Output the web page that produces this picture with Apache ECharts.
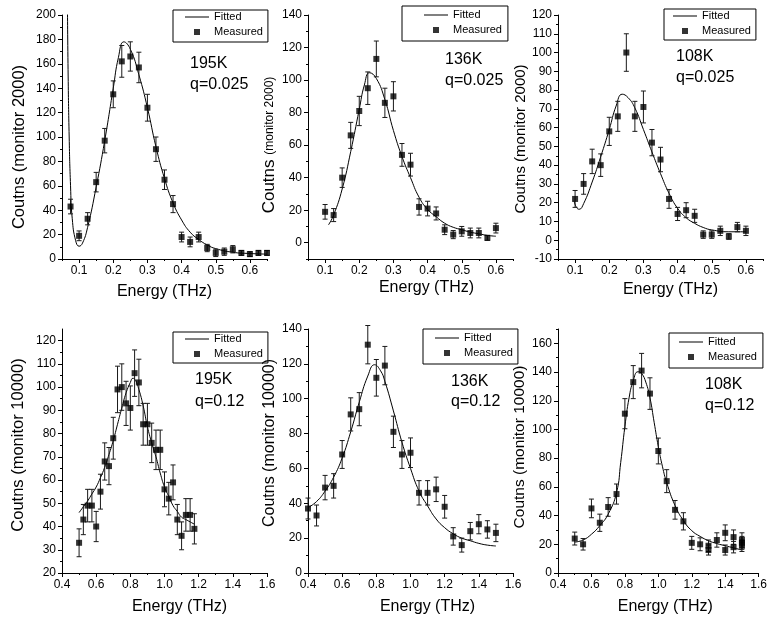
<!DOCTYPE html>
<html>
<head>
<meta charset="utf-8">
<script src="https://cdn.jsdelivr.net/npm/echarts@6.0.0/dist/echarts.min.js"></script>
<style>
  html, body { margin: 0; padding: 0; background: #fff; }
  #chart { width: 770px; height: 623px; }
</style>
</head>
<body>
<div id="chart"></div>
<script>
// ---- Measured spectra and fitted curves, q = 0.025 (monitor 2000) ----
const E_Q025 = [0.1, 0.125, 0.15, 0.175, 0.2, 0.225, 0.25, 0.275, 0.3, 0.325, 0.35,
  0.375, 0.4, 0.425, 0.45, 0.475, 0.5, 0.525, 0.55, 0.575, 0.6];

const E_195_025 = [0.075, 0.1, 0.125, 0.15, 0.175, 0.2, 0.225, 0.25, 0.275, 0.3, 0.325, 0.35,
  0.375, 0.4, 0.425, 0.45, 0.475, 0.5, 0.525, 0.55, 0.575, 0.6, 0.625, 0.65];
const C_195_025 = [43, 19, 33, 63, 97, 135, 162, 166, 157, 124, 90, 65, 45, 18, 14, 18, 9, 5, 6, 8, 5, 4, 5, 5];
const ERR_195_025 = [6, 4, 5, 8, 10, 11, 13, 12, 12.5, 11, 10, 8, 7, 4, 4, 4, 3, 3, 3, 3, 2, 2, 2, 2];
const FIT_E_195_025 = [0.066, 0.068, 0.071, 0.075, 0.08, 0.09, 0.1, 0.11, 0.125, 0.15, 0.175, 0.2,
  0.215, 0.231, 0.25, 0.275, 0.3, 0.325, 0.35, 0.375, 0.4, 0.425, 0.45, 0.475, 0.5, 0.55, 0.6, 0.65];
const FIT_C_195_025 = [205, 150, 100, 60, 33, 15, 10.5, 13, 26, 59, 97, 140,
  165, 178, 172, 151, 124, 92, 66, 46, 32, 22, 16, 11.5, 8.5, 5.5, 4.5, 4];

const C_136_025 = [19, 17, 40, 66, 81, 95, 113, 86, 90, 54, 48, 22, 21, 18, 8, 5, 7, 6, 6, 3, 9];
const ERR_136_025 = [4.5, 4, 6, 8, 9, 10, 11, 9, 9, 7, 7, 5, 4.5, 4, 3, 2.5, 3, 3, 3, 1.5, 3];
const FIT_E_136_025 = [0.11, 0.125, 0.15, 0.175, 0.2, 0.215, 0.23, 0.25, 0.275, 0.3, 0.325,
  0.35, 0.375, 0.4, 0.425, 0.45, 0.475, 0.5, 0.525, 0.55, 0.575, 0.6];
const FIT_C_136_025 = [11, 17, 33, 56, 82, 97, 104.5, 101, 88, 69, 53,
  40, 28, 20.5, 16, 12, 9.5, 8, 6.5, 5.5, 4.5, 4];

const C_108_025 = [22, 30, 42, 40, 58, 66, 100, 66, 71, 52, 43, 22, 14, 16, 13, 3, 3, 5, 2, 7, 5];
const ERR_108_025 = [4.5, 5.5, 6.5, 6, 7.5, 8, 10, 8, 8.5, 7, 6.5, 5, 3.5, 4, 3.5, 2, 2, 2.5, 1.5, 2.5, 2.5];
const FIT_E_108_025 = [0.097, 0.104, 0.112, 0.125, 0.15, 0.175, 0.2, 0.22, 0.238, 0.255,
  0.275, 0.3, 0.325, 0.35, 0.375, 0.4, 0.425, 0.45, 0.475, 0.5, 0.55, 0.6];
const FIT_C_108_025 = [21, 17.5, 16.5, 19.5, 31, 44.5, 59, 71.5, 77.8, 76,
  70.5, 59, 47, 35.5, 25, 17, 12, 9, 6.8, 5.5, 4.5, 4.5];

// ---- q = 0.12 (monitor 10000) ----
const E_195_012 = [0.5, 0.525, 0.55, 0.575, 0.6, 0.625, 0.65, 0.675, 0.7, 0.725, 0.75, 0.775, 0.8,
  0.825, 0.85, 0.875, 0.9, 0.925, 0.95, 0.975, 1.0, 1.025, 1.05, 1.075, 1.1, 1.125, 1.15, 1.175];
const C_195_012 = [33, 43, 49, 49, 40, 55, 68, 66, 78, 99, 100, 93, 91,
  106, 102, 84, 84, 76, 73, 73, 56, 52, 59, 43, 36, 45, 45, 39];
const ERR_195_012 = [6, 6.5, 7, 7, 6.5, 7.5, 8, 8, 9, 10, 10, 9.5, 9.5,
  10, 10, 9, 9, 8.5, 8.5, 8.5, 7.5, 7, 7.5, 6.5, 6, 7, 7, 6.5];
const FIT_E_195_012 = [0.5, 0.525, 0.55, 0.575, 0.6, 0.625, 0.65, 0.675, 0.7, 0.725, 0.75, 0.775,
  0.8, 0.815, 0.83, 0.85, 0.875, 0.9, 0.925, 0.95, 0.975, 1.0, 1.025, 1.05, 1.075, 1.1, 1.125, 1.15, 1.175];
const FIT_C_195_012 = [46, 48.5, 51, 54, 57, 61, 65.5, 71, 77, 84, 91, 97.5,
  102, 103.8, 103, 99, 92, 83, 76, 70, 63, 57, 53, 49, 46.5, 44, 43, 42, 41];

const E_136_012 = [0.4, 0.45, 0.5, 0.55, 0.6, 0.65, 0.7, 0.75, 0.8, 0.85, 0.9, 0.95, 1.0,
  1.05, 1.1, 1.15, 1.2, 1.25, 1.3, 1.35, 1.4, 1.45, 1.5];
const C_136_012 = [37, 33, 49, 50, 68, 91, 94, 131, 112, 119, 81, 68, 69, 46, 46, 48, 38, 21, 16, 24, 28, 25, 23];
const ERR_136_012 = [6, 6, 7, 7, 8, 9.5, 9.5, 11, 10.5, 11, 9, 8, 8.5, 7, 7, 7, 6.5, 5, 4, 5, 5.5, 5, 5];
const FIT_E_136_012 = [0.4, 0.45, 0.5, 0.55, 0.6, 0.65, 0.7, 0.75, 0.79, 0.825, 0.85, 0.9, 0.95, 1.0,
  1.05, 1.1, 1.15, 1.2, 1.25, 1.3, 1.35, 1.4, 1.45, 1.5];
const FIT_C_136_012 = [37.5, 41, 47, 55, 66, 81, 98, 113, 119.5, 116, 110, 93, 75, 60,
  47, 38.5, 31, 26, 22.5, 20, 18.5, 17, 16, 15.5];

const E_108_012 = [0.5, 0.55, 0.6, 0.65, 0.7, 0.75, 0.8, 0.85, 0.9, 0.95, 1.0, 1.05, 1.1, 1.15,
  1.2, 1.25, 1.3, 1.3, 1.35, 1.4, 1.4, 1.45, 1.45, 1.5, 1.5, 1.5];
const C_108_012 = [24, 20, 45, 35, 46, 55, 111, 133, 141, 125, 85, 64, 44, 36,
  21, 20, 19, 16, 23, 28, 16, 25, 18, 23, 21, 19];
const ERR_108_012 = [4.5, 4, 6.5, 6, 6.5, 7, 10.5, 11.5, 12, 11, 9, 8, 6.5, 6,
  4.5, 4.5, 4, 3.5, 5, 5.5, 3.5, 5, 4, 5, 4.5, 4];
const FIT_E_108_012 = [0.5, 0.55, 0.6, 0.65, 0.7, 0.75, 0.775, 0.8, 0.825, 0.85, 0.878, 0.9, 0.925,
  0.95, 0.975, 1.0, 1.025, 1.05, 1.1, 1.15, 1.2, 1.25, 1.3, 1.35, 1.4, 1.45, 1.5];
const FIT_C_108_012 = [21.5, 23, 27, 33, 41, 56, 77, 102, 122, 134, 140.2, 139, 133,
  122, 105, 88, 74, 63, 47, 36.5, 29.5, 25.5, 22.5, 20.5, 19, 17.5, 16];

// ---- Tick positions ----
const X_TICKS_Q025 = [0.1, 0.2, 0.3, 0.4, 0.5, 0.6];
const X_MINOR_Q025 = [0.05, 0.15, 0.25, 0.35, 0.45, 0.55, 0.65];
const X_TICKS_Q012 = [0.4, 0.6, 0.8, 1.0, 1.2, 1.4, 1.6];
const X_MINOR_Q012 = [0.5, 0.7, 0.9, 1.1, 1.3, 1.5];

const Y_TICKS_195_025 = [0, 20, 40, 60, 80, 100, 120, 140, 160, 180, 200];
const Y_MINOR_195_025 = [10, 30, 50, 70, 90, 110, 130, 150, 170, 190];
const Y_TICKS_136_025 = [0, 20, 40, 60, 80, 100, 120, 140];
const Y_MINOR_136_025 = [-10, 10, 30, 50, 70, 90, 110, 130];
const Y_TICKS_108_025 = [-10, 0, 10, 20, 30, 40, 50, 60, 70, 80, 90, 100, 110, 120];
const Y_MINOR_108_025 = [-5, 5, 15, 25, 35, 45, 55, 65, 75, 85, 95, 105, 115];
const Y_TICKS_195_012 = [20, 30, 40, 50, 60, 70, 80, 90, 100, 110, 120];
const Y_MINOR_195_012 = [25, 35, 45, 55, 65, 75, 85, 95, 105, 115];
const Y_TICKS_136_012 = [0, 20, 40, 60, 80, 100, 120, 140];
const Y_MINOR_136_012 = [10, 30, 50, 70, 90, 110, 130];
const Y_TICKS_108_012 = [0, 20, 40, 60, 80, 100, 120, 140, 160];
const Y_MINOR_108_012 = [10, 30, 50, 70, 90, 110, 130, 150, 170];

// ---- Labels ----
const TEMPS = ['195K', '136K', '108K', '195K', '136K', '108K'];
const Q_LABELS = ['q=0.025', 'q=0.025', 'q=0.025', 'q=0.12', 'q=0.12', 'q=0.12'];
const X_TITLE = 'Energy (THz)';
const Y_TITLE_2000 = 'Coutns (monitor 2000)';
const Y_TITLE_10000 = 'Coutns (monitor 10000)';
const LEGEND_NAMES = ['Fitted', 'Measured'];

const FONT = '"Liberation Sans", Arial, Helvetica, sans-serif';

const panels = [
  { left: 62, top: 15, xMin: 0.05, xMax: 0.65, yMin: 0, yMax: 200,
    xt: X_TICKS_Q025, xm: X_MINOR_Q025, yt: Y_TICKS_195_025, ym: Y_MINOR_195_025,
    e: E_195_025, c: C_195_025, err: ERR_195_025, fe: FIT_E_195_025, fc: FIT_C_195_025,
    yName: Y_TITLE_2000, yFont: 16.5, yGap: 34, yPad: [0, 20, 0, 0], xGap: 25, xPad: [0, 0, 0, 0],
    legend: [173, 10], legendPad: [1, 5, 4, 12], note: [190, 64, 85] },
  { left: 308, top: 15, xMin: 0.05, xMax: 0.65, yMin: -10, yMax: 140,
    xt: X_TICKS_Q025, xm: X_MINOR_Q025, yt: Y_TICKS_136_025, ym: Y_MINOR_136_025,
    e: E_Q025, c: C_136_025, err: ERR_136_025, fe: FIT_E_136_025, fc: FIT_C_136_025,
    yName: '{a|Coutns} {b|(monitor 2000)}', yRich: true, yFont: 17, yGap: 24, yPad: [0, 16, 0, 0], xGap: 21, xPad: [0, 0, 0, 32],
    legend: [402, 6], legendPad: [3, 6, 5, 22], note: [445, 60, 81] },
  { left: 558, top: 15, xMin: 0.05, xMax: 0.65, yMin: -10, yMax: 120,
    xt: X_TICKS_Q025, xm: X_MINOR_Q025, yt: Y_TICKS_108_025, ym: Y_MINOR_108_025,
    e: E_Q025, c: C_108_025, err: ERR_108_025, fe: FIT_E_108_025, fc: FIT_C_108_025,
    yName: Y_TITLE_2000, yFont: 15, yGap: 24, yPad: [0, 4, 0, 0], xGap: 23, xPad: [0, 0, 0, 20],
    legend: [664, 9], legendPad: [1, 5, 3, 9], note: [676, 57, 78] },
  { left: 62, top: 329, xMin: 0.4, xMax: 1.6, yMin: 20, yMax: 125,
    xt: X_TICKS_Q012, xm: X_MINOR_Q012, yt: Y_TICKS_195_012, ym: Y_MINOR_195_012,
    e: E_195_012, c: C_195_012, err: ERR_195_012, fe: FIT_E_195_012, fc: FIT_C_195_012,
    yName: Y_TITLE_10000, yFont: 16.5, yGap: 35, yPad: [0, 0, 0, 12], xGap: 26, xPad: [0, 0, 0, 30],
    legend: [173, 332], legendPad: [1, 5, 3, 12], note: [195, 380, 402] },
  { left: 308, top: 329, xMin: 0.4, xMax: 1.6, yMin: 0, yMax: 140,
    xt: X_TICKS_Q012, xm: X_MINOR_Q012, yt: Y_TICKS_136_012, ym: Y_MINOR_136_012,
    e: E_136_012, c: C_136_012, err: ERR_136_012, fe: FIT_E_136_012, fc: FIT_C_136_012,
    yName: Y_TITLE_10000, yFont: 16, yGap: 30, yPad: [0, 0, 0, 16], xGap: 26, xPad: [0, 0, 0, 34],
    legend: [423, 329], legendPad: [3, 5, 5, 12], note: [451, 382, 402] },
  { left: 558, top: 329, xMin: 0.4, xMax: 1.6, yMin: 0, yMax: 170,
    xt: X_TICKS_Q012, xm: X_MINOR_Q012, yt: Y_TICKS_108_012, ym: Y_MINOR_108_012,
    e: E_108_012, c: C_108_012, err: ERR_108_012, fe: FIT_E_108_012, fc: FIT_C_108_012,
    yName: Y_TITLE_10000, yFont: 15.5, yGap: 23, yPad: [0, 0, 0, 8], xGap: 26, xPad: [0, 0, 0, 14],
    legend: [669, 333], legendPad: [3, 6, 5, 10], note: [705, 385, 406] }
];

const GRID_W = 205, GRID_H = 244;
const INK = '#000';

function fmtX(v) { return (Math.round(v * 10) / 10).toFixed(1); }
function fmtY(v) { return String(Math.round(v)); }

// Vertical error bar with short caps, placed through the grid's own coordinate system
function renderErrorBar(params, api) {
  const x = api.value(0);
  const lo = api.coord([x, api.value(1)]);
  const hi = api.coord([x, api.value(2)]);
  const cap = 2.5;
  const st = { stroke: '#1a1a1a', lineWidth: 1 };
  return {
    type: 'group',
    children: [
      { type: 'line', shape: { x1: lo[0], y1: lo[1], x2: hi[0], y2: hi[1] }, style: st },
      { type: 'line', shape: { x1: lo[0] - cap, y1: lo[1], x2: lo[0] + cap, y2: lo[1] }, style: st },
      { type: 'line', shape: { x1: hi[0] - cap, y1: hi[1], x2: hi[0] + cap, y2: hi[1] }, style: st }
    ]
  };
}

const option = {
  animation: false,
  backgroundColor: '#fff',
  textStyle: { fontFamily: FONT },
  grid: [], xAxis: [], yAxis: [], series: [], legend: [], graphic: []
};

panels.forEach((p, i) => {
  option.grid.push({ left: p.left, top: p.top, width: GRID_W, height: GRID_H });

  const xi = option.xAxis.length;
  option.xAxis.push({
    type: 'value', gridIndex: i, position: 'bottom', min: p.xMin, max: p.xMax,
    axisLine: { show: true, onZero: false, lineStyle: { color: INK, width: 1 } },
    axisTick: { show: true, inside: false, length: 4, customValues: p.xt, lineStyle: { color: INK } },
    axisLabel: { customValues: p.xt, formatter: fmtX, margin: 6, color: INK, fontSize: 12, fontFamily: FONT },
    splitLine: { show: false },
    name: X_TITLE, nameLocation: 'middle', nameGap: p.xGap,
    nameTextStyle: { fontSize: 16, color: INK, fontFamily: FONT, padding: p.xPad }
  });
  option.xAxis.push({
    type: 'value', gridIndex: i, position: 'bottom', min: p.xMin, max: p.xMax,
    axisLine: { show: false, onZero: false },
    axisTick: { show: true, length: 2, customValues: p.xm, lineStyle: { color: INK } },
    axisLabel: { show: false }, splitLine: { show: false }
  });

  const yi = option.yAxis.length;
  const yNameStyle = { fontSize: p.yFont, color: INK, fontFamily: FONT, padding: p.yPad };
  if (p.yRich) {
    yNameStyle.rich = {
      a: { fontSize: 17, color: INK, fontFamily: FONT },
      b: { fontSize: 12, color: INK, fontFamily: FONT }
    };
  }
  option.yAxis.push({
    type: 'value', gridIndex: i, position: 'left', min: p.yMin, max: p.yMax,
    axisLine: { show: true, onZero: false, lineStyle: { color: INK, width: 1 } },
    axisTick: { show: true, inside: false, length: 4, customValues: p.yt, lineStyle: { color: INK } },
    axisLabel: { customValues: p.yt, formatter: fmtY, margin: 6, color: INK, fontSize: 12, fontFamily: FONT },
    splitLine: { show: false },
    name: p.yName, nameLocation: 'middle', nameGap: p.yGap, nameRotate: 90,
    nameTextStyle: yNameStyle
  });
  option.yAxis.push({
    type: 'value', gridIndex: i, position: 'left', min: p.yMin, max: p.yMax,
    axisLine: { show: false, onZero: false },
    axisTick: { show: true, length: 2, customValues: p.ym, lineStyle: { color: INK } },
    axisLabel: { show: false }, splitLine: { show: false }
  });

  option.series.push({
    type: 'line', name: LEGEND_NAMES[0], xAxisIndex: xi, yAxisIndex: yi,
    data: p.fe.map((e, k) => [e, p.fc[k]]),
    symbol: 'none', smooth: 0.5, clip: true,
    lineStyle: { color: INK, width: 1 }, itemStyle: { color: INK }, z: 2
  });
  option.series.push({
    type: 'custom', name: 'err' + i, xAxisIndex: xi, yAxisIndex: yi,
    data: p.e.map((e, k) => [e, p.c[k] - p.err[k], p.c[k] + p.err[k]]),
    encode: { x: 0, y: [1, 2] },
    renderItem: renderErrorBar, z: 3, silent: true
  });
  option.series.push({
    type: 'scatter', name: LEGEND_NAMES[1], xAxisIndex: xi, yAxisIndex: yi,
    data: p.e.map((e, k) => [e, p.c[k]]),
    symbol: 'rect', symbolSize: 6, itemStyle: { color: INK }, z: 4
  });

  option.legend.push({
    orient: 'vertical', left: p.legend[0], top: p.legend[1],
    selectedMode: false, borderColor: INK, borderWidth: 1, borderRadius: 0,
    padding: p.legendPad, itemWidth: 24, itemHeight: 6, itemGap: 3,
    textStyle: { fontSize: 11, color: INK, fontFamily: FONT, lineHeight: 12 },
    data: [
      { name: LEGEND_NAMES[0], icon: 'path://M0,0h24v1h-24z', itemStyle: { color: INK } },
      { name: LEGEND_NAMES[1], icon: 'path://M0,0h10v10h-10z', itemStyle: { color: INK } }
    ]
  });

  option.graphic.push({
    type: 'text', x: p.note[0], y: p.note[1],
    style: { text: TEMPS[i], font: '16px ' + FONT, fill: INK, verticalAlign: 'middle' }
  });
  option.graphic.push({
    type: 'text', x: p.note[0], y: p.note[2],
    style: { text: Q_LABELS[i], font: '16px ' + FONT, fill: INK, verticalAlign: 'middle' }
  });
});

const chart = echarts.init(document.getElementById('chart'), null, { renderer: 'canvas' });
chart.setOption(option);
</script>
</body>
</html>
